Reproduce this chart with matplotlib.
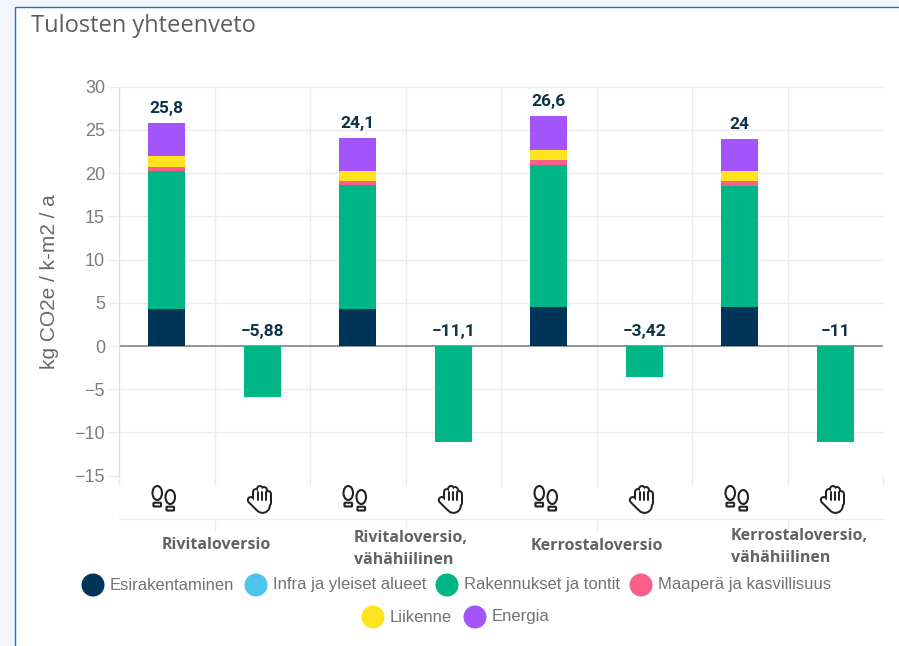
import numpy as np
import matplotlib
matplotlib.use("Agg")
import matplotlib.pyplot as plt
from matplotlib.patches import Ellipse, FancyBboxPatch, Rectangle
from matplotlib.lines import Line2D
from matplotlib.transforms import Affine2D

W, H = 899, 646
title = "Tulosten yhteenveto"
ylabel = "kg CO2e / k-m2 / a"
groups = ["Rivitaloversio", "Rivitaloversio,\nvähähiilinen", "Kerrostaloversio", "Kerrostaloversio,\nvähähiilinen"]
series = ["Esirakentaminen", "Infra ja yleiset alueet", "Rakennukset ja tontit", "Maaperä ja kasvillisuus", "Liikenne", "Energia"]
colors = ["#00355a", "#4dc3ee", "#00b686", "#f8608a", "#ffe31f", "#a355fb"]
esirak = [4.3, 0, 4.25, 0, 4.5, 0, 4.5, 0]
infra = [0, 0, 0, 0, 0, 0, 0, 0]
rakennukset = [15.9, -5.9, 14.35, -11.1, 16.5, -3.55, 14.05, -11.1]
maapera = [0.5, 0, 0.5, 0, 0.5, 0, 0.5, 0]
liikenne = [1.25, 0, 1.2, 0, 1.2, 0, 1.2, 0]
energia = [3.85, 0, 3.8, 0, 3.9, 0, 3.75, 0]
totals = ["25,8", "−5,88", "24,1", "−11,1", "26,6", "−3,42", "24", "−11"]
yticks = [30, 25, 20, 15, 10, 5, 0, -5, -10, -15]
stack = [esirak, infra, rakennukset, maapera, liikenne, energia]
label_left = [162, 354, 531, 731]
label_y = [545, 549, 546, 547]

fig = plt.figure(figsize=(W / 100, H / 100), dpi=100, facecolor="#f1f7fd")
px = Affine2D().scale(1 / W, -1 / H).translate(0, 1) + fig.transFigure

# card
fig.add_artist(Rectangle((15, 6.5), W, H, transform=px, fc="white", ec="#2a6fd0", lw=1.0, zorder=-1))

GRID = "#ececec"
ax = fig.add_axes([119 / W, 1 - 475.7 / H, (883 - 119) / W, (475.7 - 86.7) / H])
ax.set_facecolor("none")
ax.set_xlim(-0.5, 7.5)
ax.set_ylim(-15, 30)
ax.set_yticks(yticks)
ax.set_yticklabels([str(v).replace("-", "−") for v in yticks], fontsize=13, color="#7d7d7d", family="Liberation Sans")
ax.tick_params(axis="y", length=8, color=GRID, width=1, pad=2)
ax.yaxis.get_major_ticks()[yticks.index(0)].tick1line.set_color("#8a8f94")
ax.set_xticks(np.arange(-0.5, 8))
ax.tick_params(axis="x", length=7.5, color=GRID, width=1, labelbottom=False)
ax.grid(True, color=GRID, lw=1)
ax.set_axisbelow(True)
for name, s in ax.spines.items():
    s.set_visible(name == "left")
ax.spines["left"].set_color("#dcdcdc")
ax.spines["left"].set_bounds(-15, 30)
ax.axhline(0, color="#8a8f94", lw=1.3, zorder=1.5)
ax.set_ylabel(ylabel, fontsize=15, color="#666a6d", family="Liberation Sans")
ax.yaxis.set_label_coords(-0.079, 0.498)

x = np.arange(8)
pos = np.zeros(8)
neg = np.zeros(8)
for vals, c in zip(stack, colors):
    v = np.array(vals, float)
    base = np.where(v >= 0, pos, neg)
    ax.bar(x, v, 0.39, bottom=base, color=c, zorder=2)
    pos += np.clip(v, 0, None)
    neg += np.clip(v, None, 0)
for i, t in enumerate(totals):
    ax.annotate(t, (x[i], pos[i] if pos[i] > 0 else 0), xytext=(0, 5 if pos[i] > 0 else 5), textcoords="offset points",
                ha="center", va="bottom", fontsize=12.5, fontweight="bold", color="#0d3349", family="Roboto")

fig.text(31 / W, 1 - 26 / H, title, fontsize=17, color="#5c6063", family="Open Sans", va="center")

# second axis line + ticks
fig.add_artist(Line2D([119, 883], [519, 519], transform=px, color=GRID, lw=1))
for i, g in enumerate(groups):
    cx = ax.transData.transform((2 * i + 0.5, 0))[0]
    fig.add_artist(Line2D([cx, cx], [519, 530], transform=px, color=GRID, lw=1))
    fig.text(label_left[i] / W, 1 - label_y[i] / H, g, fontsize=11.5, fontweight="bold", color="#5f6366",
             family="Open Sans", va="center", ha="left", linespacing=1.55)

# icons
INK = "#222222"
def foot(cx, cy):
    fig.add_artist(Ellipse((cx, cy), 9.5, 14, transform=px, fc="white", ec=INK, lw=1.5))
    fig.add_artist(FancyBboxPatch((cx - 3, cy + 10.5), 6, 2.2, boxstyle="round,pad=0.8", transform=px, fc="white", ec=INK, lw=1.5))

def footprints(cx):
    foot(cx - 9.5, 493)
    foot(cx + 3.5, 497)

HAND = [((-3.5, -7), (-3.5, 4), 5.2), ((0.5, -10), (0.5, 4), 5.2), ((4.5, -9), (4.5, 4), 5.2), ((8, -5), (8, 4), 5.2),
        ((-9, 1), (-2, 8), 5.2), ((2.5, 2), (2.5, 6), 14)]

def hand(cx):
    cy = 499
    for extra, col in ((2.8, INK), (-1.2, "white")):
        for (a, b, w) in HAND:
            fig.add_artist(Line2D([cx + a[0], cx + b[0]], [cy + a[1], cy + b[1]], transform=px, color=col,
                                  lw=(w + extra) * 0.72, solid_capstyle="round"))
    for d in (-1.5, 2.5, 6.3):
        fig.add_artist(Line2D([cx + d, cx + d], [cy - 7, cy + 1], transform=px, color=INK, lw=1.4, solid_capstyle="round"))

for i in range(8):
    cx = ax.transData.transform((i, 0))[0]
    if i % 2 == 0:
        footprints(cx)
    else:
        hand(cx - 2.5)

# legend
rows = [(585, [93, 256, 447, 641], series[:4]), (617, [373, 475], series[4:])]
k = 0
for y, xs, names in rows:
    for cx, n in zip(xs, names):
        fig.add_artist(Ellipse((cx, y), 23, 23, transform=px, fc=colors[k], ec="none"))
        fig.text((cx + 17) / W, 1 - y / H, n, fontsize=12, color="#6f7376", family="Liberation Sans", va="center")
        k += 1

fig.savefig("out.png", dpi=100, facecolor=fig.get_facecolor())
